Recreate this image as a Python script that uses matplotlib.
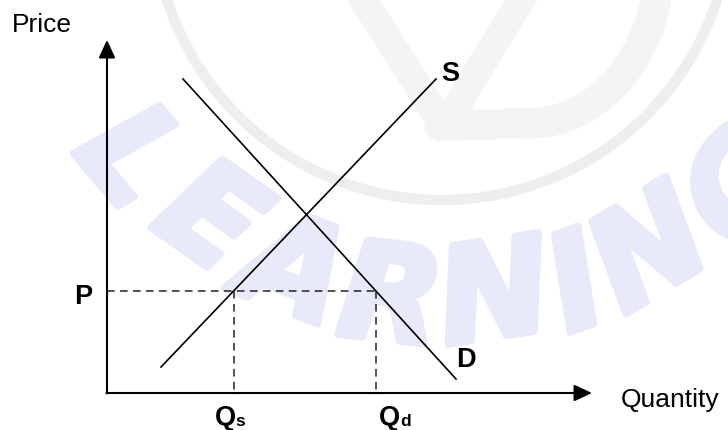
import numpy as np
import matplotlib.pyplot as plt
import matplotlib.patheffects as pe
from matplotlib.patches import Circle

plt.rcParams['font.family'] = ['Liberation Sans', 'DejaVu Sans']

# end points of the two curves (quantity, price)
supply_q = [1.08, 6.58]
supply_p = [0.52, 6.28]
demand_q = [1.52, 6.98]
demand_p = [6.28, 0.28]
price = 2.04

q_max = 9.7
p_max = 7.06

# quantities at the price level
q_s = np.interp(price, supply_p, supply_q)
q_d = np.interp(price, demand_p[::-1], demand_q[::-1])

fig = plt.figure(figsize=(7.28, 4.30), dpi=100)

# watermark layer, in pixel coordinates
bg = fig.add_axes([0, 0, 1, 1])
bg.set_xlim(0, 728)
bg.set_ylim(430, 0)
bg.axis('off')

bg.add_patch(Circle((442, -89), 289, fill=False, lw=7.5, ec='#eeeeee'))
bg.plot([357, 444, 527], [-10, 127, -10], lw=20, color='#f4f4f4',
        solid_joinstyle='round')
t = np.linspace(np.pi / 2, -0.15, 40)
dx = np.concatenate([[440], 530 + 130 * np.cos(t)])
dy = np.concatenate([[126], -40 + 163 * np.sin(t)])
bg.plot(dx, dy, lw=22, color='#f4f4f4', solid_capstyle='round')

wm_letters = list('LEARNING')
wm_x = [127, 207, 293, 390, 495, 578, 652, 748]
wm_y = [160, 222, 275, 303, 300, 290, 255, 190]
cx, cy = 435, -100
wm_color = '#e8eaf9'
for ch, x, y in zip(wm_letters, wm_x, wm_y):
    rot = np.degrees(np.arctan2(y - cy, cx - x)) - 90
    bg.text(x, y, ch, fontsize=96, family='DejaVu Sans', weight='bold',
            style='italic', color=wm_color, ha='center', va='center',
            rotation=rot, rotation_mode='anchor',
            path_effects=[pe.withStroke(linewidth=5, foreground=wm_color)])

# chart layer, 50 px per unit
ax = fig.add_axes([0, 0, 1, 1])
ax.set_xlim(-2.14, 12.42)
ax.set_ylim(-0.74, 7.86)
ax.patch.set_alpha(0)
ax.axis('off')

arrow = dict(arrowstyle='-|>,head_length=0.6,head_width=0.28', lw=1.5,
             color='black', shrinkA=0, shrinkB=0, mutation_scale=18)
ax.annotate('', xy=(0, p_max), xytext=(0, -0.01), arrowprops=arrow)
ax.annotate('', xy=(q_max, 0), xytext=(-0.01, 0), arrowprops=arrow)

ax.plot(supply_q, supply_p, color='black', lw=1.2)
ax.plot(demand_q, demand_p, color='black', lw=1.2)

dash = dict(color='#222222', lw=1.1, linestyle=(0, (5, 3.5)))
ax.plot([0, q_d], [price, price], **dash)
ax.plot([q_s, q_s], [price, -0.04], **dash)
ax.plot([q_d, q_d], [price, -0.04], **dash)

ax.text(-1.9, 7.22, 'Price', fontsize=19, va='baseline')
ax.text(10.28, -0.28, 'Quantity', fontsize=19, va='baseline')
ax.text(supply_q[1] + 0.1, supply_p[1] - 0.04, 'S', fontsize=19.5,
        weight='bold', va='baseline')
ax.text(demand_q[1], demand_p[1] + 0.24, 'D', fontsize=19.5,
        weight='bold', va='baseline')
ax.text(-0.3, price - 0.26, 'P', fontsize=19.5, weight='bold',
        ha='right', va='baseline')

# Q labels with small subscripts
ax.text(q_s - 0.38, -0.64, 'Q', fontsize=19.5, weight='bold', va='baseline')
ax.text(q_s + 0.04, -0.66, 's', fontsize=12.5, weight='bold', va='baseline')
ax.text(q_d + 0.06, -0.64, 'Q', fontsize=19.5, weight='bold', va='baseline')
ax.text(q_d + 0.48, -0.66, 'd', fontsize=12.5, weight='bold', va='baseline')

fig.savefig('out.png', dpi=100)
